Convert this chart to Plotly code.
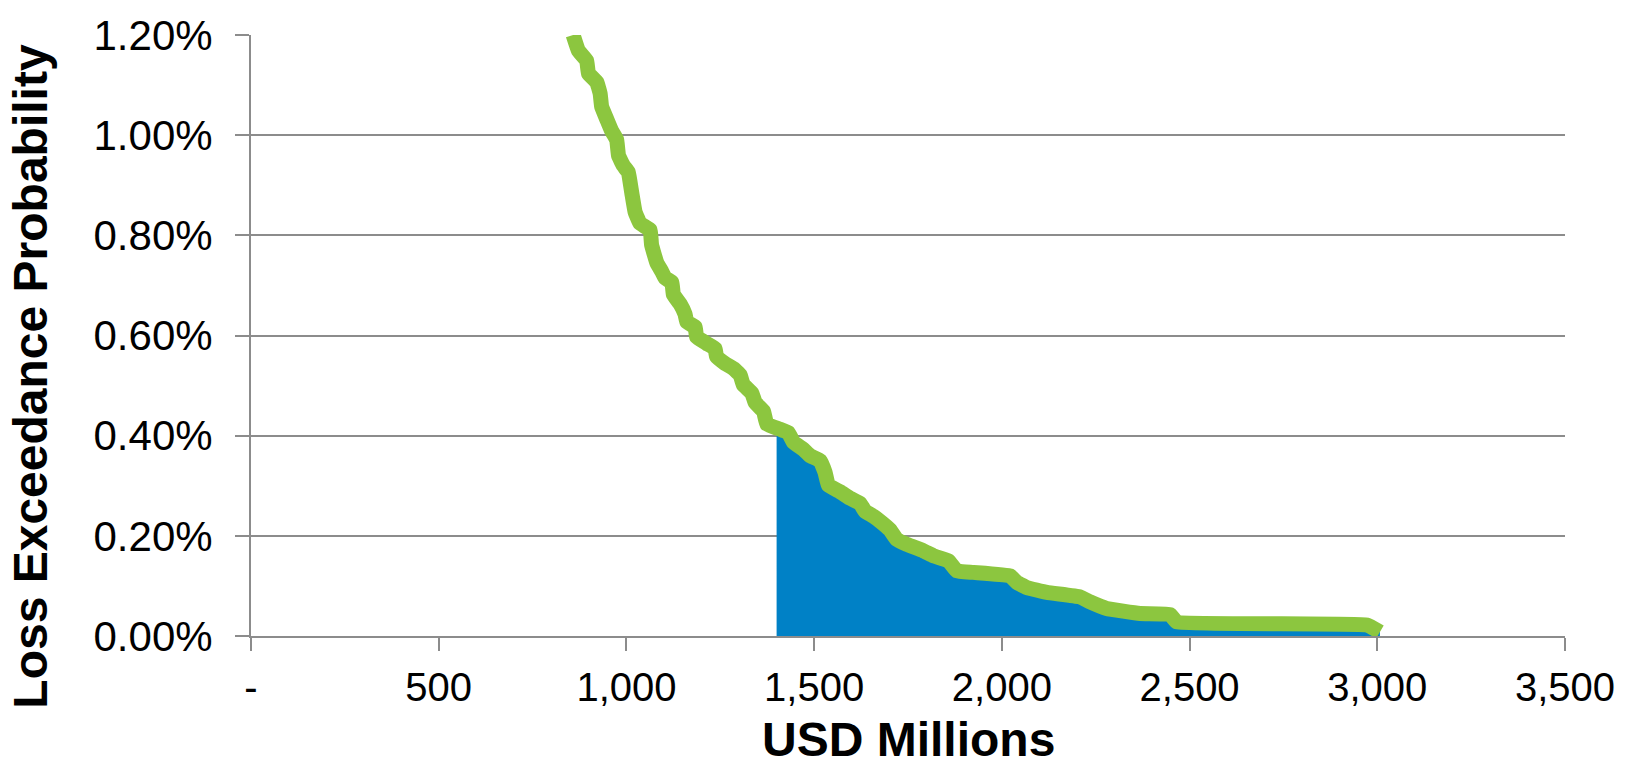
import plotly.graph_objects as go

# Loss exceedance curve (USD millions, probability in %)
loss_usd_m = [858, 872, 894, 899, 921, 930, 934, 948, 961, 974, 979, 992, 1005, 1014,
              1023, 1036, 1063, 1067, 1081, 1094, 1103, 1121, 1125, 1143, 1156, 1161,
              1183, 1187, 1214, 1236, 1240, 1263, 1285, 1303, 1311, 1334, 1343, 1365,
              1374, 1409, 1431, 1445, 1471, 1489, 1516, 1529, 1538, 1569, 1596, 1622,
              1636, 1658, 1676, 1702, 1720, 1747, 1791, 1818, 1858, 1880, 1924, 2022,
              2040, 2066, 2120, 2208, 2235, 2279, 2368, 2448, 2466, 2972, 3007]
exceed_pct = [1.200, 1.169, 1.149, 1.123, 1.106, 1.083, 1.057, 1.031, 1.008, 0.991,
              0.959, 0.939, 0.926, 0.886, 0.847, 0.824, 0.811, 0.781, 0.745, 0.728,
              0.715, 0.706, 0.682, 0.663, 0.643, 0.627, 0.617, 0.597, 0.584, 0.574,
              0.558, 0.544, 0.534, 0.521, 0.502, 0.485, 0.466, 0.449, 0.423, 0.413,
              0.406, 0.387, 0.373, 0.360, 0.350, 0.327, 0.301, 0.288, 0.275, 0.265,
              0.249, 0.239, 0.229, 0.212, 0.193, 0.183, 0.170, 0.160, 0.150, 0.130,
              0.127, 0.120, 0.107, 0.097, 0.087, 0.078, 0.068, 0.055, 0.045, 0.043,
              0.028, 0.022, 0.008]

# shaded tail starts at this loss
tail_start = 1400
tail_start_pct = 0.405

x_tickvals = [0, 500, 1000, 1500, 2000, 2500, 3000, 3500]
x_ticktext = ["-", "500", "1,000", "1,500", "2,000", "2,500", "3,000", "3,500"]
y_tickvals = [0.0, 0.2, 0.4, 0.6, 0.8, 1.0, 1.2]
y_ticktext = ["0.00%", "0.20%", "0.40%", "0.60%", "0.80%", "1.00%", "1.20%"]

tail_x = [tail_start] + [x for x in loss_usd_m if x >= tail_start]
tail_y = [tail_start_pct] + [y for x, y in zip(loss_usd_m, exceed_pct) if x >= tail_start]

GREEN = "#8CC63F"
BLUE = "#0081C6"
GRID = "#8C8C8C"
FONT = "Liberation Sans, Arial, Helvetica, sans-serif"

fig = go.Figure()
fig.add_trace(go.Scatter(x=tail_x, y=tail_y, mode="lines", fill="tozeroy",
                         fillcolor=BLUE,
                         line=dict(color=BLUE, width=0, shape="spline", smoothing=0.3),
                         hoverinfo="skip", showlegend=False))
fig.add_trace(go.Scatter(x=loss_usd_m, y=exceed_pct, mode="lines",
                         line=dict(color=GREEN, width=15, shape="spline", smoothing=0.3),
                         showlegend=False))

fig.update_layout(
    width=1627, height=767,
    margin=dict(l=251, r=62, t=29, b=131),
    plot_bgcolor="white", paper_bgcolor="white",
    font=dict(family=FONT, color="black"),
    xaxis=dict(range=[0, 3500], tickvals=x_tickvals, ticktext=x_ticktext,
               showgrid=False, zeroline=False, showline=True, linecolor=GRID,
               linewidth=2, ticks="outside", ticklen=13, tickwidth=2,
               tickcolor=GRID, tickfont=dict(size=40, family=FONT),
               ticklabelstandoff=2),
    yaxis=dict(range=[0, 1.2], tickvals=y_tickvals, ticktext=y_ticktext,
               showgrid=True, gridcolor=GRID, gridwidth=2,
               zeroline=False, showline=True, linecolor=GRID, linewidth=2,
               ticks="outside", ticklen=14, tickwidth=2, tickcolor=GRID,
               tickfont=dict(size=42, family=FONT), ticklabelstandoff=14),
    annotations=[
        dict(text="<b>Loss Exceedance Probability</b>", xref="paper", yref="paper",
             x=-0.1675, y=0.433, xanchor="center", yanchor="middle", textangle=-90,
             showarrow=False, font=dict(size=48, family=FONT, color="black")),
        dict(text="<b>USD Millions</b>", xref="paper", yref="paper",
             x=0.5, y=-0.173, xanchor="center", yanchor="middle",
             showarrow=False, font=dict(size=48, family=FONT, color="black")),
    ],
)

fig.write_html("out.html", config={"displayModeBar": False},
               post_script="document.body.style.margin='0';")
